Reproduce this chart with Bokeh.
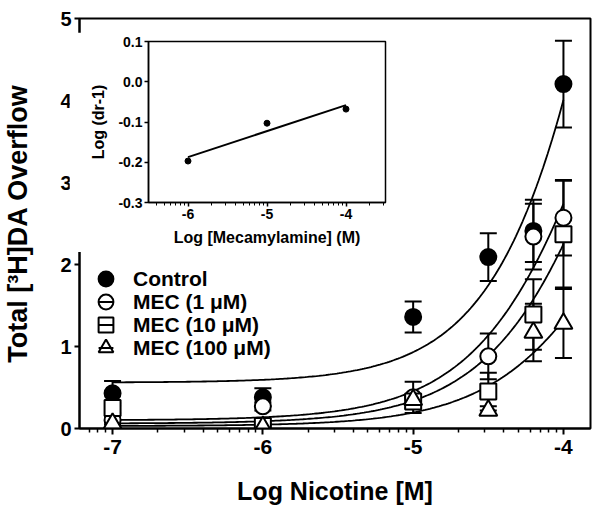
import numpy as np
from bokeh.plotting import figure
from bokeh.models import (Range1d, FixedTicker, PrintfTickFormatter, Whisker, ColumnDataSource,
                          Legend, LegendItem, TeeHead)
from bokeh.layouts import column
from bokeh.embed import file_html
from bokeh.resources import INLINE

# ---------------- data ----------------
log_nicotine = [-7, -6, -5, -4.5, -4.2, -4]

control_mean = [0.43, 0.38, 1.36, 2.09, 2.41, 4.20]
control_err = [0.15, 0.11, 0.19, 0.29, 0.38, 0.53]
mec1_mean = [0.10, 0.27, 0.38, 0.88, 2.34, 2.57]
mec1_err = [0.05, 0.05, 0.19, 0.28, 0.40, 0.46]
mec10_mean = [0.25, 0.03, 0.33, 0.45, 1.39, 2.37]
mec10_err = [0.06, 0.03, 0.08, 0.23, 0.43, 0.65]
mec100_mean = [0.06, 0.02, 0.35, 0.22, 1.17, 1.28]
mec100_err = [0.04, 0.02, 0.06, 0.05, 0.35, 0.42]

series_names = ["Control", "MEC (1 \u03bcM)", "MEC (10 \u03bcM)", "MEC (100 \u03bcM)"]
series_markers = ["circle", "circle", "square", "triangle"]
series_fill = ["black", "white", "white", "white"]

# fitted sigmoid parameters (bottom, top, logEC50, hill slope)
fit_bottom = [0.56, 0.10, 0.06, 0.03]
fit_top = [18.7, 9.37, 9.17, 5.40]
fit_logec50 = [-3.4, -3.6, -3.5, -3.5]
fit_hill = [1.05, 1.0, 1.0, 1.0]

x_major_ticks = [-7, -6, -5, -4]
y_major_ticks = [0, 1, 2, 3, 4, 5]

# inset (Schild-type plot)
inset_log_mec = [-6, -5, -4]
inset_log_dr = [-0.197, -0.103, -0.068]
inset_x_ticks = [-6, -5, -4]
inset_y_ticks = [-0.3, -0.2, -0.1, 0.0, 0.1]

FONT = "Liberation Sans"


def log_minor(lo, hi):
    out = []
    for d in range(int(np.floor(lo)) - 1, int(np.ceil(hi)) + 1):
        for k in range(2, 10):
            v = d + np.log10(k)
            if lo <= v <= hi:
                out.append(float(v))
    return out


def style_axis(ax, size):
    ax.axis_line_width = 2
    ax.axis_line_color = "black"
    ax.major_tick_line_width = 2
    ax.minor_tick_line_width = 1.5
    ax.major_tick_in = 0
    ax.minor_tick_in = 0
    ax.major_label_text_font = FONT
    ax.major_label_text_font_style = "bold"
    ax.major_label_text_font_size = size
    ax.major_label_text_color = "black"
    ax.axis_label_text_font = FONT
    ax.axis_label_text_font_style = "bold"
    ax.axis_label_text_color = "black"


# ---------------- main figure ----------------
xr = (-7.22, -3.82)
p = figure(width=598, height=512, x_range=Range1d(*xr), y_range=Range1d(0, 5),
           output_backend="svg", toolbar_location=None,
           min_border_left=79, min_border_right=8, min_border_top=18, min_border_bottom=84)
p.grid.visible = False
p.outline_line_color = "black"
p.outline_line_width = 2
p.background_fill_color = "white"

p.xaxis.ticker = FixedTicker(ticks=x_major_ticks, minor_ticks=log_minor(*xr))
p.xaxis.formatter = PrintfTickFormatter(format="%d")
p.yaxis.ticker = FixedTicker(ticks=y_major_ticks, minor_ticks=[])
p.yaxis.formatter = PrintfTickFormatter(format="%d")
style_axis(p.xaxis[0], "21px")
style_axis(p.yaxis[0], "20px")
p.xaxis.major_tick_out = 6
p.xaxis.minor_tick_out = 4
p.yaxis.major_tick_out = 5
p.xaxis.major_label_standoff = 5
p.yaxis.major_label_standoff = 3
p.xaxis.axis_label = "Log Nicotine [M]"
p.yaxis.axis_label = "Total [\u00b3H]DA Overflow"
p.xaxis.axis_label_text_font_size = "25px"
p.yaxis.axis_label_text_font_size = "27px"
p.xaxis.axis_label_standoff = 20
p.yaxis.axis_label_standoff = 24

means = [control_mean, mec1_mean, mec10_mean, mec100_mean]
errs = [control_err, mec1_err, mec10_err, mec100_err]

# fitted curves
xc = np.linspace(log_nicotine[0], log_nicotine[-1], 200)
for b, t, l, h in zip(fit_bottom, fit_top, fit_logec50, fit_hill):
    yc = b + (t - b) / (1 + 10 ** ((l - xc) * h))
    p.line(xc, yc, line_color="black", line_width=1.8)

ROW_PITCH = 23
for i, (name, mk, fc, m, e) in enumerate(zip(series_names, series_markers, series_fill, means, errs)):
    m = np.array(m)
    e = np.array(e)
    src = ColumnDataSource(dict(x=log_nicotine, y=m, upper=m + e, lower=np.maximum(m - e, 0)))
    w = Whisker(base="x", upper="upper", lower="lower", source=src,
                line_color="black", line_width=2,
                upper_head=TeeHead(size=17, line_width=2, line_color="black"),
                lower_head=TeeHead(size=17, line_width=2, line_color="black"))
    p.add_layout(w)
    r = p.scatter("x", "y", source=src, marker=mk, size=16 if mk != "triangle" else 18,
                  fill_color=fc, line_color="black", line_width=2)
    # legend-only dash: zero size in the plot, sized by the legend box in the legend
    dash = p.scatter("x", "y", source=src, marker="dash", size=0,
                     line_color="black", line_width=2)
    lg = Legend(items=[LegendItem(label=name, renderers=[r, dash])],
                location=(8, 131 - ROW_PITCH * i),
                glyph_width=37, glyph_height=37, spacing=0, padding=0, margin=0,
                label_standoff=9, label_text_font=FONT, label_text_font_style="bold",
                label_text_font_size="21px", label_text_color="black",
                border_line_color=None, background_fill_alpha=0)
    p.add_layout(lg)

# ---------------- inset ----------------
ixr = (-6.5, -3.5)
ins = figure(width=324, height=220, x_range=Range1d(*ixr), y_range=Range1d(-0.3, 0.1),
             output_backend="svg", toolbar_location=None,
             min_border_left=76, min_border_right=4, min_border_top=9, min_border_bottom=50)
ins.margin = (-480, 0, 0, 69)
ins.grid.visible = False
ins.outline_line_color = "black"
ins.outline_line_width = 1.5
ins.xaxis.ticker = FixedTicker(ticks=inset_x_ticks, minor_ticks=log_minor(*ixr))
ins.xaxis.formatter = PrintfTickFormatter(format="%d")
ins.yaxis.ticker = FixedTicker(ticks=inset_y_ticks, minor_ticks=[])
ins.yaxis.formatter = PrintfTickFormatter(format="%.1f")
style_axis(ins.xaxis[0], "14px")
style_axis(ins.yaxis[0], "14px")
for ax in (ins.xaxis[0], ins.yaxis[0]):
    ax.axis_line_width = 1.5
    ax.major_tick_line_width = 1.5
    ax.minor_tick_line_width = 1
    ax.major_tick_out = 4
    ax.minor_tick_out = 3
    ax.major_label_standoff = 2
    ax.axis_label_text_font_size = "16px"
ins.xaxis.axis_label = "Log [Mecamylamine] (M)"
ins.yaxis.axis_label = "Log (dr-1)"
ins.xaxis.axis_label_standoff = 7
ins.yaxis.axis_label_standoff = 8

slope, intercept = np.polyfit(inset_log_mec, inset_log_dr, 1)
xl = np.array([inset_log_mec[0], inset_log_mec[-1]], dtype=float)
ins.line(xl, slope * xl + intercept, line_color="black", line_width=2)
ins.scatter(inset_log_mec, inset_log_dr, marker="circle", size=6, fill_color="black", line_color="black")

layout = column(p, ins)
open("out.html", "w").write(file_html(layout, INLINE))
